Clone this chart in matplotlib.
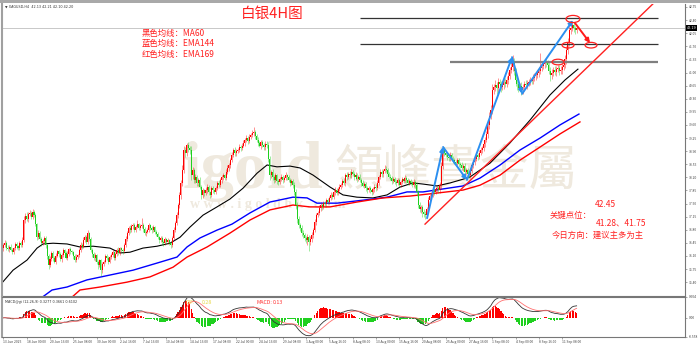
import numpy as np
import pandas as pd
import matplotlib
matplotlib.use("Agg")
import matplotlib.pyplot as plt
from matplotlib.patches import Ellipse, Rectangle

plt.rcParams['font.family'] = ['Noto Sans CJK SC', 'DejaVu Sans']

# 4H closes, 13 Jun 2025 -> 12 Sep 2025
closes = [
    36.39, 36.45, 36.32, 36.28, 36.35, 36.26, 36.20, 36.31, 36.42, 36.36,
    36.30, 36.44, 36.39, 36.52, 37.06, 37.18, 37.10, 37.22, 37.25, 37.15,
    37.28, 37.20, 36.95, 36.60, 36.72, 36.55, 36.44, 36.50, 36.58, 36.39,
    36.10, 35.86, 36.02, 36.18, 36.05, 35.95, 36.10, 36.22, 36.15, 36.01,
    36.12, 36.25, 36.18, 36.05, 36.16, 36.28, 36.22, 36.20, 36.10, 36.00,
    36.08, 36.12, 36.25, 36.40, 36.35, 36.52, 36.60, 36.48, 36.71, 36.55,
    36.26, 36.15, 36.05, 36.12, 35.94, 35.85, 35.98, 35.72, 35.88, 35.95,
    36.10, 36.04, 35.95, 36.08, 36.12, 36.20, 36.05, 36.15, 36.26, 36.18,
    36.30, 36.26, 36.22, 36.39, 36.55, 36.70, 36.85, 36.78, 36.90, 36.93,
    36.80, 36.88, 36.95, 36.85, 36.90, 36.93, 36.82, 36.70, 36.74, 36.80,
    36.92, 36.85, 36.78, 36.87, 36.75, 36.68, 36.60, 36.52, 36.58, 36.48,
    36.44, 36.55, 36.48, 36.52, 36.45, 36.39, 36.58, 36.80, 36.98, 37.20,
    37.45, 37.73, 38.05, 38.40, 38.93, 38.85, 39.06, 38.98, 38.93, 38.26,
    38.40, 38.13, 38.22, 38.05, 38.13, 37.95, 37.73, 37.85, 37.78, 37.86,
    37.95, 37.80, 37.72, 37.91, 37.85, 37.81, 37.92, 38.05, 38.00, 38.12,
    38.20, 38.26, 38.18, 38.35, 38.45, 38.52, 38.66, 38.80, 38.93, 38.85,
    38.90, 38.93, 39.02, 38.98, 39.05, 39.12, 39.20, 39.25, 39.18, 39.28,
    39.33, 39.38, 39.41, 39.30, 39.20, 39.12, 39.05, 39.15, 39.06, 39.00,
    39.10, 39.06, 38.70, 38.26, 38.35, 38.20, 38.13, 38.25, 38.10, 38.07,
    38.15, 38.22, 38.12, 38.18, 38.25, 38.20, 38.13, 38.05, 38.10, 37.99,
    37.80, 37.46, 37.10, 36.93, 36.85, 36.72, 36.66, 36.58, 36.52, 36.60,
    36.47, 36.55, 36.65, 36.79, 37.00, 37.19, 37.25, 37.38, 37.46, 37.40,
    37.52, 37.48, 37.59, 37.55, 37.65, 37.73, 37.68, 37.80, 37.86, 37.78,
    37.88, 37.95, 37.99, 38.10, 38.05, 38.26, 38.20, 38.30, 38.25, 38.34,
    38.28, 38.20, 38.26, 38.15, 38.22, 38.13, 38.05, 37.98, 38.02, 37.91,
    37.85, 37.92, 37.86, 37.80, 37.88, 37.95, 37.91, 38.05, 38.20, 38.34,
    38.28, 38.36, 38.42, 38.39, 38.30, 38.22, 38.18, 38.10, 38.15, 38.08,
    38.05, 38.12, 38.00, 38.07, 38.15, 38.10, 38.18, 38.12, 38.05, 38.10,
    38.05, 38.00, 38.08, 37.99, 37.80, 37.46, 37.35, 37.40, 37.27, 37.22,
    37.19, 37.35, 37.59, 37.70, 37.75, 37.86, 37.80, 37.88, 37.91, 37.85,
    37.99, 38.50, 38.93, 38.85, 38.80, 38.75, 38.72, 38.80, 38.70, 38.66,
    38.62, 38.58, 38.65, 38.55, 38.53, 38.45, 38.50, 38.34, 38.40, 38.30,
    38.26, 38.38, 38.53, 38.60, 38.70, 38.80, 38.75, 38.85, 38.93, 38.98,
    39.10, 39.20, 39.35, 39.60, 39.85, 40.00, 40.53, 40.60, 40.67, 40.58,
    40.75, 40.70, 40.62, 40.67, 40.75, 40.70, 40.80, 40.92, 41.07, 41.15,
    41.28, 41.05, 40.80, 40.70, 40.59, 40.65, 40.53, 40.60, 40.70, 40.67,
    40.72, 40.75, 40.80, 40.78, 40.85, 40.90, 40.93, 40.98, 41.05, 41.12,
    41.18, 41.22, 41.28, 41.25, 41.20, 41.05, 40.93, 41.00, 41.07, 41.02,
    41.10, 41.12, 41.05, 41.07, 41.15, 41.20, 41.35, 41.60, 41.81, 42.14,
    42.20, 42.27, 42.18, 42.14, 42.19,
]
first_open = 36.30

# wick lengths in cents above / below the body
wick_up = [
    5, 8, 4, 6, 3, 7, 5, 4, 6, 5,   4, 6, 5, 8, 10, 6, 9, 5, 7, 6,
    8, 5, 6, 4, 7, 5, 6, 4, 5, 6,   4, 5, 8, 5, 6, 4, 7, 5, 4, 6,
    5, 6, 4, 5, 7, 4, 6, 5, 3, 5,   6, 4, 5, 7, 5, 8, 6, 5, 7, 4,
    5, 4, 6, 5, 4, 6, 5, 4, 6, 5,   4, 6, 5, 4, 6, 5, 4, 6, 5, 7,
    5, 4, 6, 5, 7, 6, 5, 8, 6, 5,   6, 5, 12, 4, 6, 18, 5, 4, 6, 5,
    6, 4, 5, 6, 4, 5, 6, 4, 5, 4,   5, 6, 4, 5, 4, 6, 5, 7, 6, 8,
    7, 9, 8, 12, 10, 8, 6, 9, 7, 10, 8, 6, 7, 5, 6, 8, 5, 6, 4, 7,
    6, 5, 4, 6, 5, 4, 6, 5, 7, 5,   6, 5, 4, 6, 7, 5, 6, 8, 6, 7,
    5, 6, 8, 5, 6, 7, 6, 8, 5, 7,   6, 8, 14, 6, 5, 7, 6, 5, 6, 5,
    7, 6, 8, 6, 5, 7, 5, 6, 4, 5,   6, 7, 5, 6, 8, 5, 6, 4, 5, 6,
    8, 10, 7, 6, 5, 7, 6, 5, 6, 8,  6, 7, 8, 6, 9, 7, 6, 8, 7, 5,
    6, 5, 7, 6, 5, 7, 6, 5, 7, 6,   5, 6, 7, 5, 8, 6, 7, 5, 6, 8,
    6, 5, 7, 6, 5, 6, 5, 7, 6, 5,   6, 5, 4, 6, 5, 7, 6, 8, 6, 7,
    8, 6, 10, 7, 6, 5, 7, 6, 5, 6,  5, 6, 7, 5, 6, 5, 7, 6, 5, 6,
    6, 5, 7, 6, 8, 6, 7, 5, 6, 8,   7, 6, 8, 6, 5, 7, 6, 5, 7, 6,
    8, 12, 10, 8, 6, 7, 6, 8, 5, 7, 6, 5, 7, 6, 5, 7, 6, 8, 6, 5,
    6, 7, 8, 6, 7, 8, 6, 7, 8, 6,   8, 7, 9, 8, 10, 12, 15, 10, 12, 8,
    10, 8, 7, 9, 8, 10, 12, 10, 8, 12, 18, 10, 8, 9, 7, 8, 10, 8, 7, 9,
    8, 7, 9, 8, 10, 8, 9, 9, 10, 40, 10, 9, 8, 10, 9, 8, 10, 9, 8, 10,
    8, 9, 7, 10, 8, 9, 12, 10, 12, 14, 10, 8, 9, 7, 5,
]
wick_dn = [
    6, 4, 7, 5, 8, 4, 6, 5, 4, 7,   5, 4, 6, 5, 4, 7, 6, 8, 5, 6,
    5, 7, 6, 8, 5, 6, 7, 5, 6, 8,   7, 10, 5, 6, 8, 5, 6, 4, 7, 5,
    6, 5, 7, 4, 6, 5, 7, 6, 8, 5,   5, 6, 4, 5, 6, 5, 4, 7, 5, 6,
    6, 7, 5, 8, 6, 10, 5, 16, 7, 6, 5, 6, 7, 5, 6, 4, 7, 5, 6, 5,
    6, 5, 7, 4, 5, 6, 4, 6, 5, 7,   5, 6, 4, 7, 5, 6, 8, 5, 6, 4,
    5, 7, 6, 5, 7, 6, 5, 8, 6, 7,   8, 5, 6, 7, 5, 8, 6, 5, 7, 6,
    8, 7, 10, 9, 8, 12, 9, 10, 12, 14, 10, 8, 9, 7, 8, 6, 10, 7, 8, 6,
    7, 8, 6, 5, 7, 6, 5, 7, 6, 5,   6, 7, 5, 6, 5, 7, 6, 5, 6, 8,
    7, 6, 5, 8, 6, 5, 7, 6, 8, 5,   6, 5, 7, 8, 6, 7, 5, 8, 6, 7,
    6, 8, 10, 12, 8, 7, 9, 6, 8, 7, 5, 6, 7, 5, 6, 7, 5, 8, 6, 7,
    8, 10, 12, 9, 8, 10, 7, 9, 8, 12, 25, 8, 7, 6, 5, 8, 6, 5, 7, 6,
    5, 7, 6, 5, 7, 6, 5, 6, 7, 5,   6, 5, 7, 6, 5, 7, 6, 5, 7, 6,
    5, 7, 6, 8, 5, 6, 7, 5, 6, 7,   6, 5, 7, 6, 5, 6, 7, 5, 6, 5,
    6, 7, 5, 6, 7, 5, 6, 7, 5, 6,   7, 5, 6, 7, 5, 6, 5, 7, 6, 5,
    6, 7, 5, 8, 10, 9, 8, 10, 12, 9, 10, 8, 7, 6, 8, 7, 6, 5, 7, 6,
    8, 10, 9, 8, 7, 10, 8, 9, 7, 8, 7, 8, 6, 7, 8, 6, 7, 8, 6, 10,
    8, 7, 6, 8, 7, 6, 8, 7, 6, 8,   7, 8, 6, 9, 10, 8, 12, 10, 9, 15,
    10, 12, 15, 8, 10, 9, 8, 10, 9, 8, 10, 12, 15, 18, 10, 9, 14, 10, 9, 8,
    10, 8, 9, 10, 8, 9, 10, 8, 9, 10, 9, 8, 10, 9, 12, 10, 15, 10, 9, 8,
    10, 9, 12, 8, 10, 9, 8, 12, 10, 9, 12, 10, 9, 10, 8,
]

# moving averages (bar index, price)
ma60_idx = [-1, 6.6, 16.2, 23.1, 27.2, 34.1, 43.7, 52.6, 61.6, 73.2, 80.1, 87.0,
            95.9, 105.6, 114.5, 121.4, 128.2, 137.2, 146.8, 155.7, 164.7, 174.3,
            181.2, 188.0, 197.0, 203.9, 212.8, 224.5, 233.4, 243.0, 254.0, 263.7,
            272.6, 281.5, 288.4, 298.0, 307.0, 315.9, 320.7, 334.5, 348.2, 362.0,
            375.7, 386.0, 394.9]
ma60_val = [35.38, 35.72, 35.99, 36.31, 36.42, 36.44, 36.42, 36.34, 36.36, 36.31,
            36.18, 36.20, 36.31, 36.36, 36.44, 36.60, 36.87, 37.19, 37.41, 37.62,
            37.91, 38.31, 38.53, 38.48, 38.50, 38.45, 38.26, 37.94, 37.73, 37.67,
            37.65, 37.73, 37.94, 38.05, 38.02, 37.97, 38.05, 38.15, 38.21, 38.58,
            39.12, 39.73, 40.40, 40.80, 41.09]

ema144_idx = [25.0, 33.4, 43.7, 57.4, 73.2, 89.1, 105.6, 119.3, 126.2, 135.1, 146.8,
              157.1, 169.5, 183.2, 199.0, 208.7, 215.5, 229.3, 247.2, 263.7, 277.4,
              288.4, 302.2, 315.9, 327.6, 341.4, 355.1, 368.9, 382.6, 395.6]
ema144_val = [34.95, 35.19, 35.27, 35.46, 35.59, 35.72, 35.91, 36.07, 36.34, 36.58,
              36.79, 36.95, 37.25, 37.54, 37.67, 37.65, 37.51, 37.51, 37.59, 37.67,
              37.81, 37.81, 37.89, 37.97, 38.18, 38.53, 38.93, 39.25, 39.60, 39.89]

ema169_idx = [45.7, 52.6, 66.4, 84.9, 100.7, 116.6, 126.2, 140.0, 155.7, 169.5,
              183.2, 199.0, 210.7, 224.5, 243.0, 260.9, 279.5, 298.0, 315.9, 327.6,
              341.4, 355.1, 368.9, 382.6, 396.3]
ema169_val = [34.95, 35.19, 35.27, 35.40, 35.54, 35.80, 36.07, 36.34, 36.71, 37.06,
              37.33, 37.46, 37.41, 37.41, 37.54, 37.65, 37.70, 37.78, 37.86, 37.99,
              38.26, 38.66, 39.01, 39.36, 39.68]

date_labels = ["13 Jun 2025", "18 Jun 00:00", "20 Jun 16:00", "25 Jun 08:00",
               "30 Jun 00:00", "2 Jul 16:00", "7 Jul 16:00", "10 Jul 08:00",
               "14 Jul 16:00", "17 Jul 08:00", "22 Jul 00:00", "24 Jul 16:00",
               "29 Jul 08:00", "1 Aug 00:00", "5 Aug 16:00", "8 Aug 08:00",
               "13 Aug 00:00", "15 Aug 16:00", "20 Aug 08:00", "25 Aug 00:00",
               "27 Aug 16:00", "1 Sep 08:00", "4 Sep 00:00", "8 Sep 16:00",
               "11 Sep 08:00"]
bars_per_label = 16

price_ticks = [42.75, 42.40, 42.05, 41.70, 41.35, 41.00, 40.65, 40.30, 39.95, 39.60,
               39.25, 38.90, 38.55, 38.20, 37.85, 37.50, 37.15, 36.80, 36.45, 36.10,
               35.75, 35.40]
macd_ticks = [0.604, 0.0, -0.558]
macd_tick_labels = ["0.604", "0.00", "-0.558"]

# key levels and drawings
level_prices = [42.45, 41.75, 41.28]
level_from = [245, 245, 307]
level_to = 450
blue_path = [(291.2, 37.11), (302.2, 39.01), (318.6, 38.13), (349.6, 41.41),
             (356.5, 40.43), (391.5, 42.40)]
red_arrows = [((392.9, 42.32), (403.2, 41.79)), ((405.3, 41.79), (422.5, 42.86))]
trend_line = [(289.8, 36.95), (449.3, 42.94)]
circles = [(391.5, 42.43, 9.6, 0.19), (388.1, 41.73, 8.2, 0.15),
           (381.2, 41.28, 8.2, 0.15), (403.9, 41.73, 8.2, 0.15)]
last_price = 42.19

c = np.array(closes)
n = len(c)
idx = np.arange(n)
o = np.r_[first_open, c[:-1]]
hi = np.maximum(o, c) + np.array(wick_up) / 100
lo = np.minimum(o, c) - np.array(wick_dn) / 100
up = c >= o
cols = np.where(up, '#ff0000', '#1fd01f')

s = pd.Series(c)
dif = s.ewm(span=12, adjust=False).mean() - s.ewm(span=26, adjust=False).mean()
dea = dif.ewm(span=9, adjust=False).mean()
hist = 2 * (dif - dea)

fig = plt.figure(figsize=(7, 3.46), dpi=100)
ax = fig.add_axes([2 / 700, 50 / 346, 683 / 700, 292 / 346])
axm = fig.add_axes([2 / 700, 9 / 346, 683 / 700, 40 / 346], sharex=ax)
fig.add_artist(Rectangle((0, 1 - 3 / 346), 1, 3 / 346, transform=fig.transFigure,
                         color='#a9a9a9', lw=0))

# watermark
wm = '#efe9de'
ax.text(0.265, 0.37, 'igold', transform=ax.transAxes, fontsize=48, color=wm,
        family='Liberation Serif', weight='bold', zorder=0)
ax.text(0.487, 0.38, '領峰貴金屬', transform=ax.transAxes, fontsize=35, color=wm,
        family=['Noto Sans CJK TC'], zorder=0)
ax.text(0.275, 0.30, 'w w w . i g o l d h k . c o m', transform=ax.transAxes,
        fontsize=10, color=wm, family='Liberation Serif', weight='bold', zorder=0)

ax.axhline(last_price, color='#c8c8c8', lw=0.7, zorder=1)

ax.plot(ma60_idx, ma60_val, color='black', lw=0.8, zorder=2)
ax.plot(ema144_idx, ema144_val, color='#0000ff', lw=1.0, zorder=2)
ax.plot(ema169_idx, ema169_val, color='#ff0000', lw=1.0, zorder=2)

ax.vlines(idx, lo, hi, colors=cols, lw=0.5, alpha=0.6, zorder=3)
ax.bar(idx, np.maximum(np.abs(c - o), 0.01), bottom=np.minimum(o, c), width=0.7,
       color=cols, lw=0, zorder=3)

for p, x0 in zip(level_prices, level_from):
    ax.hlines(p, x0, level_to, color='#333333' if p != 41.28 else '#7f7f7f',
              lw=0.9 if p != 41.28 else 1.6, zorder=4)

ax.plot(*zip(*trend_line), color='#ff2020', lw=1.0, zorder=4)
for a, b in zip(blue_path[:-1], blue_path[1:]):
    ax.annotate('', xy=b, xytext=a, zorder=5,
                arrowprops=dict(arrowstyle='-|>', color='#2b8ff0', lw=1.4,
                                mutation_scale=6, shrinkA=0, shrinkB=0))
for a, b in red_arrows:
    ax.annotate('', xy=b, xytext=a, zorder=5,
                arrowprops=dict(arrowstyle='-|>', color='#ff1a1a', lw=1.4,
                                mutation_scale=6, shrinkA=0, shrinkB=0))
for cx, cy, w, h in circles:
    ax.add_patch(Ellipse((cx, cy), w, h, fill=False, ec='#ff2020', lw=0.9, zorder=5))

# texts
red_txt = '#ff2020'
ax.text(0.395, 0.966, '白银4H图', transform=ax.transAxes, fontsize=10.5, color=red_txt,
        ha='center', va='center')
for k, t in enumerate(['黑色均线：MA60', '蓝色均线：EMA144', '红色均线：EMA169']):
    ax.text(0.205, 0.900 - k * 0.036, t, transform=ax.transAxes, fontsize=6,
            color=red_txt, va='center')
ax.text(0.883, 0.315, '42.45', transform=ax.transAxes, fontsize=6, color=red_txt,
        ha='center', va='center')
ax.text(0.802, 0.277, '关键点位：', transform=ax.transAxes, fontsize=6, color=red_txt,
        va='center')
ax.text(0.870, 0.250, '41.28、41.75', transform=ax.transAxes, fontsize=6, color=red_txt,
        va='center')
ax.text(0.805, 0.209, '今日方向：建议主多为主', transform=ax.transAxes, fontsize=6,
        color=red_txt, va='center')
ax.text(0.004, 0.997, '▼ XAGUSD,H4  42.13 42.21 42.10 42.20', transform=ax.transAxes,
        fontsize=2.4, color='#333333', va='top', family='DejaVu Sans')
ax.text(1.003, last_price, f'{last_price:.2f}', transform=ax.get_yaxis_transform(),
        fontsize=2.4, color='white', va='center', family='DejaVu Sans',
        bbox=dict(boxstyle='square,pad=0.2', fc='black', ec='none'))

# MACD panel
axm.bar(idx, hist, width=0.8, color=np.where(hist > 0, '#ff0000', '#1fd01f'), lw=0)
axm.plot(idx, dif, color='#333333', lw=0.6)
axm.plot(idx, dea, color='#ff7070', lw=0.6)
axm.set_ylim(-0.558, 0.604)
axm.text(0.004, 0.93, 'MACD@gt (12,26,9) 0.3277 0.3661 0.6102', transform=axm.transAxes,
         fontsize=2.4, color='#333333', va='top', family='DejaVu Sans')
axm.text(0.268, 0.93, 'DIF:', transform=axm.transAxes, fontsize=3.8, color='#e8d84a', va='top')
axm.text(0.293, 0.93, '0.28', transform=axm.transAxes, fontsize=3.8, color='#e8d84a', va='top')
axm.text(0.372, 0.93, 'MACD:', transform=axm.transAxes, fontsize=3.8, color='#ff3030', va='top')
axm.text(0.397, 0.93, '0.13', transform=axm.transAxes, fontsize=3.8, color='#ff3030', va='top')

ax.set_xlim(-1, 468.5)
ax.set_ylim(35.03, 42.83)

for a in (ax, axm):
    a.yaxis.tick_right()
    a.tick_params(axis='y', direction='out', length=1.5, width=0.4, pad=1,
                  labelsize=2.4, labelcolor='#444444', color='#666666')
    a.spines['top'].set_visible(False)
    for sp in ('left', 'right', 'bottom'):
        a.spines[sp].set_color('#777777')
        a.spines[sp].set_linewidth(0.8)
    a.spines['left'].set_color('#a0a0a0')
    a.spines['left'].set_linewidth(1.5)
axm.spines['top'].set_visible(True)
axm.spines['top'].set_color('#777777')
axm.spines['top'].set_linewidth(0.8)

ax.set_yticks(price_ticks)
ax.set_yticklabels([f'{v:.2f}' for v in price_ticks])
axm.set_yticks(macd_ticks)
axm.set_yticklabels(macd_tick_labels)

ax.tick_params(axis='x', bottom=False, labelbottom=False)
axm.set_xticks([k * bars_per_label for k in range(len(date_labels))])
axm.set_xticklabels(date_labels)
axm.tick_params(axis='x', direction='out', length=1.2, width=0.4, pad=1,
                labelsize=2.4, labelcolor='#444444', color='#666666')
for lbl in axm.get_xticklabels():
    lbl.set_ha('left')

fig.savefig('out.png', dpi=100, facecolor='white')
